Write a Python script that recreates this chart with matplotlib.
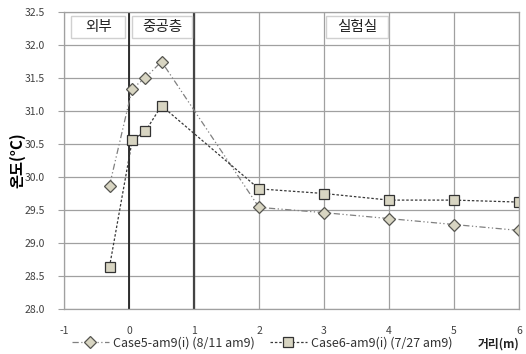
import matplotlib
matplotlib.use('Agg')
import matplotlib.pyplot as plt
from matplotlib.patches import Rectangle

plt.rcParams['font.family'] = ['Noto Sans CJK KR', 'DejaVu Sans']

# distance from the wall (m) and measured temperature (deg C)
dist = [-0.3, 0.05, 0.25, 0.5, 2, 3, 4, 5, 6]
case5 = [29.87, 31.34, 31.50, 31.75, 29.54, 29.46, 29.37, 29.28, 29.19]
case6 = [28.64, 30.56, 30.69, 31.08, 29.82, 29.75, 29.65, 29.65, 29.62]
labels = ['Case5-am9(i) (8/11 am9)', 'Case6-am9(i) (7/27 am9)']

zones = ['외부', '중공층', '실험실']
zone_span = [(-0.89, -0.06), (0.05, 0.97), (3.03, 3.98)]

xticks = [-1, 0, 1, 2, 3, 4, 5, 6]
yticks = [28.0, 28.5, 29.0, 29.5, 30.0, 30.5, 31.0, 31.5, 32.0, 32.5]

fig = plt.figure(figsize=(5.26, 3.54), dpi=100)
ax = fig.add_axes([64 / 526, 1 - 309 / 354, 455 / 526, 297 / 354])

face = '#d8d5c2'
ax.plot(dist, case5, color='#808080', lw=0.9, ls=(0, (5, 2, 1, 2, 1, 2)),
        marker='D', ms=6.5, mfc=face, mec='#555550', mew=0.9, label=labels[0])
ax.plot(dist, case6, color='#383838', lw=0.9, ls=(0, (2, 1.5)),
        marker='s', ms=7.5, mfc=face, mec='#333333', mew=0.9, label=labels[1])

# wall boundaries
ax.axvline(0, color='#222222', lw=1.3, zorder=1)
ax.axvline(1, color='#444444', lw=1.6, zorder=1)

ax.set_xlim(-1, 6)
ax.set_ylim(28.0, 32.5)
ax.set_xticks(xticks)
ax.set_yticks(yticks)
ax.set_xticklabels([str(t) for t in xticks])
ax.set_yticklabels(['%.1f' % t for t in yticks])
ax.grid(True, color='#a0a0a0', lw=0.9)
ax.set_axisbelow(True)
for s in ax.spines.values():
    s.set_color('#a0a0a0')
    s.set_linewidth(0.9)
ax.tick_params(axis='y', length=4, color='#a0a0a0', labelsize=7.5,
               labelcolor='#404040', pad=10)
ax.tick_params(axis='x', length=0, labelsize=7.5, labelcolor='#404040', pad=12)

# zone name boxes along the top
for name, (x0, x1) in zip(zones, zone_span):
    ax.add_patch(Rectangle((x0, 32.11), x1 - x0, 0.33, fc='white',
                           ec='#d0d0d0', lw=1, zorder=3))
    ax.text((x0 + x1) / 2, 32.275, name, ha='center', va='center',
            fontsize=10.5, color='#222222', zorder=4)

ax.set_ylabel('온도(°C)', fontsize=11, fontweight='bold', labelpad=2)
ax.yaxis.set_label_coords(-0.085, 0.5)
fig.text(519 / 526, 1 - 344 / 354, '거리(m)', ha='right', va='center',
         fontsize=8.5, fontweight='bold', color='#222222')

ax.legend(loc='center', bbox_to_anchor=(0.435, -0.115), ncol=2, frameon=False,
          fontsize=9, handlelength=3.0, handletextpad=0.3, columnspacing=1.2,
          labelcolor='#333333')

fig.savefig('out.png', dpi=100)
